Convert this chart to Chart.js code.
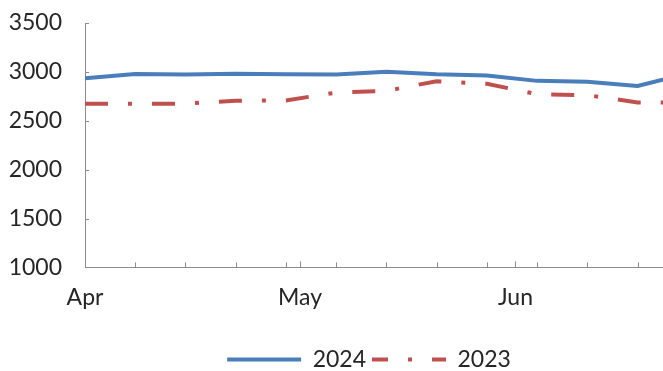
<!DOCTYPE html>
<html>
<head>
<meta charset="utf-8">
<script src="https://cdn.jsdelivr.net/npm/chart.js@4.4.1/dist/chart.umd.min.js"></script>
<style>
  html, body { margin: 0; padding: 0; background: #fff; overflow: hidden; }
  #frame { width: 663px; height: 371px; overflow: hidden; position: relative; }
  canvas { display: block; }
</style>
</head>
<body>
<div id="frame"><canvas id="c" width="738" height="381"></canvas></div>
<script>
// Weekly readings, x = weeks since start of April
const weeks = [0, 1, 2, 3, 4, 5, 6, 7, 8, 9, 10, 11, 12];
const series2024 = [2934, 2978, 2972, 2982, 2976, 2972, 3002, 2975, 2962, 2908, 2898, 2856, 2985];
const series2023 = [2674, 2674, 2675, 2705, 2708, 2788, 2806, 2905, 2878, 2772, 2762, 2688, 2688];

// Month boundaries on the week axis and their labels
const monthPositions = [0, 4.28, 8.57];
const monthLabels = ['Apr', 'May', 'Jun'];

const axisColor = '#8c8c8c';
const textColor = '#262626';
const fontFamily = 'Lato, "Open Sans", sans-serif';

const toPoints = (vals) => vals.map((v, i) => ({ x: weeks[i], y: v }));

// Short tick marks drawn inward from both axes
const innerTicks = {
  id: 'innerTicks',
  afterDraw(chart) {
    const { ctx, chartArea, scales: { x, y } } = chart;
    ctx.save();
    ctx.strokeStyle = axisColor;
    ctx.lineWidth = 1;
    ctx.beginPath();
    y.ticks.forEach(t => {
      const py = Math.round(y.getPixelForValue(t.value)) + 0.5;
      ctx.moveTo(chartArea.left, py);
      ctx.lineTo(chartArea.left + 4, py);
    });
    x.ticks.forEach(t => {
      const px = Math.round(x.getPixelForValue(t.value)) + 0.5;
      const len = monthPositions.includes(t.value) ? 6 : 5;
      ctx.moveTo(px, chartArea.bottom);
      ctx.lineTo(px, chartArea.bottom - len);
    });
    ctx.stroke();
    ctx.restore();
  }
};

new Chart(document.getElementById('c'), {
  type: 'line',
  data: {
    datasets: [
      {
        label: '2024',
        data: toPoints(series2024),
        borderColor: '#4a7ebb',
        backgroundColor: '#4a7ebb',
        borderWidth: 4,
        pointRadius: 0,
        tension: 0,
        borderJoinStyle: 'round'
      },
      {
        label: '2023',
        data: toPoints(series2023),
        borderColor: '#c0504d',
        backgroundColor: '#c0504d',
        borderWidth: 4,
        borderDash: [23, 20, 4, 20],
        borderCapStyle: 'butt',
        pointRadius: 0,
        tension: 0
      }
    ]
  },
  options: {
    responsive: false,
    animation: false,
    devicePixelRatio: 1,
    layout: { padding: { left: 0, right: 0, top: 23, bottom: 0 } },
    plugins: {
      tooltip: { enabled: false },
      legend: {
        position: 'bottom',
        labels: {
          usePointStyle: true,
          pointStyle: 'line',
          pointStyleWidth: 74,
          padding: 6,
          color: textColor,
          font: { family: fontFamily, size: 23 },
          generateLabels(chart) {
            return chart.data.datasets.map((ds, i) => ({
              text: ds.label,
              datasetIndex: i,
              pointStyle: 'line',
              strokeStyle: ds.borderColor,
              fillStyle: ds.borderColor,
              fontColor: textColor,
              lineWidth: ds.borderWidth,
              lineDash: ds.borderDash || [],
              lineDashOffset: 7,
              lineCap: 'butt',
              hidden: false
            }));
          }
        }
      }
    },
    scales: {
      x: {
        type: 'linear',
        min: 0,
        max: 13,
        border: { display: true, color: axisColor, width: 1 },
        grid: { display: true, drawOnChartArea: false, drawTicks: true, tickLength: 16, tickColor: 'rgba(0,0,0,0)' },
        afterBuildTicks(scale) {
          const vals = Array.from(new Set(weeks.concat(monthPositions))).sort((a, b) => a - b);
          scale.ticks = vals.map(v => ({ value: v }));
        },
        afterFit(scale) { scale.height += 31; },
        ticks: {
          autoSkip: false,
          maxRotation: 0,
          padding: 0,
          color: textColor,
          font: { family: fontFamily, size: 23 },
          callback(value) {
            const i = monthPositions.indexOf(value);
            return i >= 0 ? monthLabels[i] : '';
          }
        }
      },
      y: {
        min: 1000,
        max: 3500,
        border: { display: true, color: axisColor, width: 1 },
        grid: { display: true, drawOnChartArea: false, drawTicks: true, tickLength: 23, tickColor: 'rgba(0,0,0,0)' },
        afterFit(scale) { scale.width = 85; },
        ticks: {
          stepSize: 500,
          padding: 0,
          color: textColor,
          font: { family: fontFamily, size: 23 },
          callback(value) { return String(value); }
        }
      }
    }
  },
  plugins: [innerTicks]
});
</script>
</body>
</html>
